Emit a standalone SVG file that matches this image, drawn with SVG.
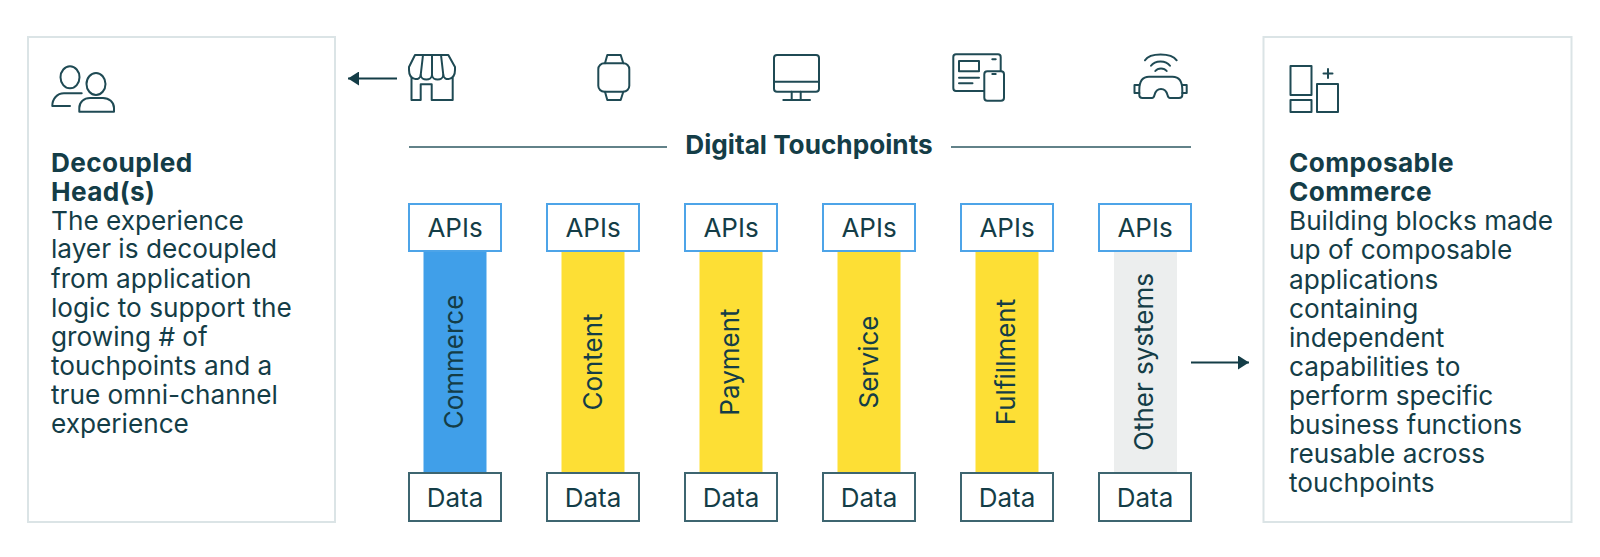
<svg xmlns="http://www.w3.org/2000/svg" width="1600" height="557" viewBox="0 0 1600 557">
<style>
text{font-family:Inter,"Liberation Sans",sans-serif;fill:#143d47}
.body{font-size:26.200px}
.head{font-size:26.200px;font-weight:700;letter-spacing:.4px}
.lbl{font-size:26px;text-anchor:middle}
.panel{fill:#fff;stroke:#dbe4e6;stroke-width:2}
.api{fill:#fff;stroke:#4da4e8;stroke-width:2}
.data{fill:#fff;stroke:#3d6570;stroke-width:2}
.ic{fill:none;stroke:#1f4a54;stroke-width:2;stroke-linejoin:round;stroke-linecap:round}
.ln{stroke:#2f5963;stroke-width:1.6;fill:none}
.ar{stroke:#143d47;stroke-width:2;fill:none}
</style>
<defs>
<marker id="ah" markerUnits="userSpaceOnUse" markerWidth="12" markerHeight="14" refX="11" refY="7" orient="auto"><path d="M0 0L11 7L0 14Z" fill="#143d47"/></marker>
</defs>
<g id="panel-left">
<rect class="panel" x="28" y="37" width="307" height="485"/>
<g class="ic">
<ellipse cx="70" cy="77.300" rx="9.500" ry="11"/>
<path d="M81.700 93.300H64C57 93.300 52.300 99 52.300 106H70"/>
<ellipse cx="96" cy="84" rx="9.500" ry="11"/>
<path d="M79.300 111.700V108C79.300 102 84 98 90 98H103C109 98 114 102 114 108V111.700Z"/>
</g>
<text class="body"><tspan class="head" x="51" y="172">Decoupled</tspan><tspan class="head" x="51" y="201">Head(s)</tspan><tspan x="51" y="229.500">The experience</tspan><tspan x="51" y="258">layer is decoupled</tspan><tspan x="51" y="288">from application</tspan><tspan x="51" y="317">logic to support the</tspan><tspan x="51" y="346">growing # of</tspan><tspan x="51" y="375">touchpoints and a</tspan><tspan x="51" y="404">true omni-channel</tspan><tspan x="51" y="433">experience</tspan></text>
</g>
<g id="panel-right">
<rect class="panel" x="1263.500" y="37" width="308" height="485"/>
<g class="ic">
<rect x="1290.500" y="66" width="21" height="29"/>
<rect x="1290.500" y="100" width="21" height="12"/>
<rect x="1317" y="84" width="21" height="28"/>
<path d="M1328 69V78M1323.500 73.500H1332.500"/>
</g>
<text class="body"><tspan class="head" x="1289" y="172">Composable</tspan><tspan class="head" x="1289" y="201">Commerce</tspan><tspan x="1289" y="230">Building blocks made</tspan><tspan x="1289" y="259">up of composable</tspan><tspan x="1289" y="289">applications</tspan><tspan x="1289" y="318">containing</tspan><tspan x="1289" y="347">independent</tspan><tspan x="1289" y="376">capabilities to</tspan><tspan x="1289" y="405">perform specific</tspan><tspan x="1289" y="434">business functions</tspan><tspan x="1289" y="463">reusable across</tspan><tspan x="1289" y="492">touchpoints</tspan></text>
</g>
<g id="icon-store" class="ic">
<path d="M415 55H448.300L455 67V70C455 81 443.500 81 443.300 75C443 81 432.300 81 432 75C431.700 81 421 81 420.700 75C420.500 81 409 81 409 70V67Z"/>
<path d="M423 55L420.700 75M432 55V75M441 55L443.300 75"/>
<path d="M411.500 78V100H420.700V84.300H431.700V100H452.700V78"/>
</g>
<g id="icon-watch" class="ic">
<rect x="598.300" y="63.300" width="31" height="28.400" rx="6"/>
<path d="M605 63.300L607.300 55H620.700L623.300 63.300M605 91.700L607.300 100H620.700L623.300 91.700"/>
</g>
<g id="icon-monitor" class="ic">
<rect x="774" y="55" width="45" height="36.700" rx="3"/>
<path d="M774 81.700H819M791.700 91.700V100M800.700 91.700V100M783.300 100H810"/>
</g>
<g id="icon-devices" class="ic">
<path d="M984 91H956C954 91 953.300 90 953.300 88V57C953.300 55 954 54.300 956 54.300H998C1000 54.300 1000.700 55 1000.700 57V71"/>
<rect x="984.300" y="71.300" width="19.700" height="29.400" rx="3"/>
<rect x="959" y="61" width="20" height="10.300"/>
<path d="M959 77.700H979M959 83.300H972.500M992.300 59.300H995.700M992.300 74H995.700"/>
</g>
<g id="icon-vr" class="ic">
<path d="M1145 60.300C1150 52.500 1171 52.500 1176.700 60.300"/>
<path d="M1151 65.700C1155 60 1166 60 1170 65.700"/>
<path d="M1155.300 71C1158 67.500 1164 67.500 1166.700 71"/>
<path d="M1139.300 90C1139.300 82 1142 76.700 1149 76.700H1172.500C1179.500 76.700 1182.300 82 1182.300 90V95C1182.300 97 1181 98 1179 98H1170C1168.500 98 1168 97 1167.500 95C1166.500 91 1165 89 1161 89C1157 89 1155.500 91 1154.500 95C1154 97 1153.500 98 1152 98H1142.500C1140.500 98 1139.300 97 1139.300 95Z"/>
<path d="M1139.300 85H1134.500V93H1139.300M1182.300 85H1186.700V93H1182.300"/>
</g>
<g id="title">
<text x="809" y="154" font-size="26.200" font-weight="700" text-anchor="middle">Digital Touchpoints</text>
</g>
<g id="connectors">
<path class="ln" d="M409 147H667M951 147H1191"/>
<path class="ar" d="M397 78.500H348" marker-end="url(#ah)"/>
<path class="ar" d="M1191 362.500H1249" marker-end="url(#ah)"/>
</g>
<g id="col-commerce"><rect x="423.500" y="251" width="63" height="222" fill="#409fe9"/><rect class="api" x="409" y="204" width="92" height="47"/><text class="lbl" x="455" y="237">APIs</text><rect class="data" x="409" y="473" width="92" height="48"/><text class="lbl" x="455" y="507">Data</text><text class="lbl" transform="translate(463 362) rotate(-90)">Commerce</text></g>
<g id="col-content"><rect x="561.500" y="251" width="63" height="222" fill="#fddf35"/><rect class="api" x="547" y="204" width="92" height="47"/><text class="lbl" x="593" y="237">APIs</text><rect class="data" x="547" y="473" width="92" height="48"/><text class="lbl" x="593" y="507">Data</text><text class="lbl" transform="translate(602 362) rotate(-90)">Content</text></g>
<g id="col-payment"><rect x="699.500" y="251" width="63" height="222" fill="#fddf35"/><rect class="api" x="685" y="204" width="92" height="47"/><text class="lbl" x="731" y="237">APIs</text><rect class="data" x="685" y="473" width="92" height="48"/><text class="lbl" x="731" y="507">Data</text><text class="lbl" transform="translate(739 362) rotate(-90)">Payment</text></g>
<g id="col-service"><rect x="837.500" y="251" width="63" height="222" fill="#fddf35"/><rect class="api" x="823" y="204" width="92" height="47"/><text class="lbl" x="869" y="237">APIs</text><rect class="data" x="823" y="473" width="92" height="48"/><text class="lbl" x="869" y="507">Data</text><text class="lbl" transform="translate(878 362) rotate(-90)">Service</text></g>
<g id="col-fulfillment"><rect x="975.500" y="251" width="63" height="222" fill="#fddf35"/><rect class="api" x="961" y="204" width="92" height="47"/><text class="lbl" x="1007" y="237">APIs</text><rect class="data" x="961" y="473" width="92" height="48"/><text class="lbl" x="1007" y="507">Data</text><text class="lbl" transform="translate(1015 362) rotate(-90)">Fulfillment</text></g>
<g id="col-other"><rect x="1114" y="251" width="63" height="222" fill="#eceeee"/><rect class="api" x="1099" y="204" width="92" height="47"/><text class="lbl" x="1145" y="237">APIs</text><rect class="data" x="1099" y="473" width="92" height="48"/><text class="lbl" x="1145" y="507">Data</text><text class="lbl" transform="translate(1153 362) rotate(-90)">Other systems</text></g>
</svg>
